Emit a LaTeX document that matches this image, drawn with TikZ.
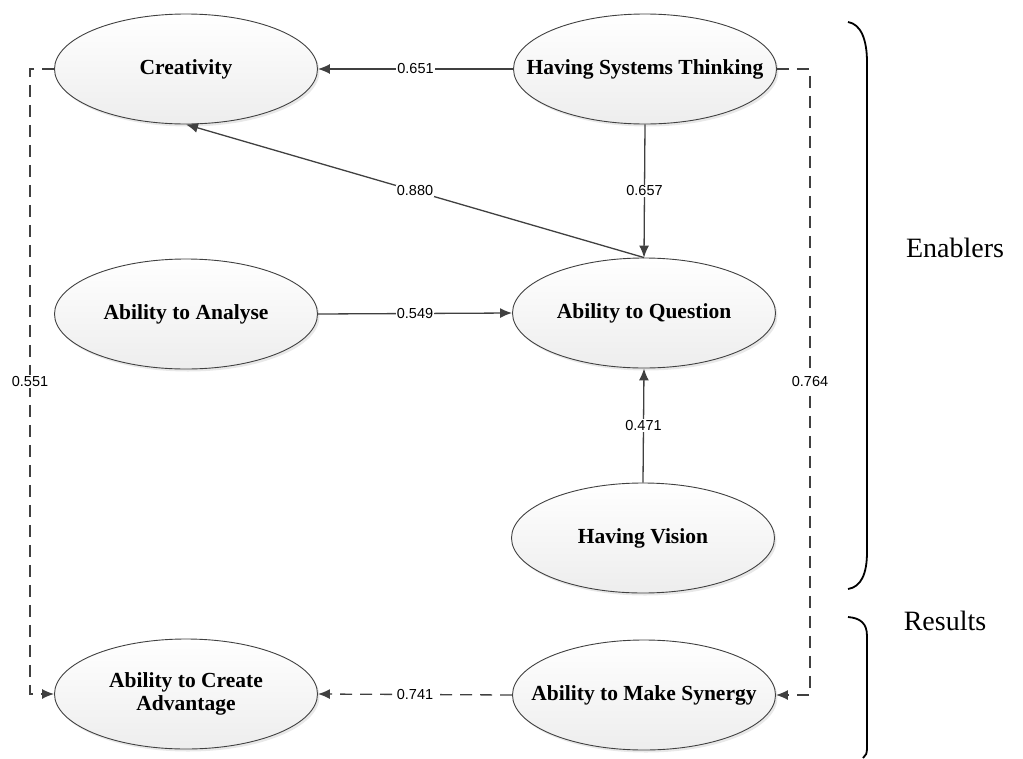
\documentclass[tikz,border=0pt]{standalone}
\usepackage{fontspec}
\setmainfont{Liberation Serif}
\newfontfamily\lblfont{Liberation Sans}
\usetikzlibrary{shapes.geometric,arrows.meta,shadows}
\definecolor{linegray}{HTML}{404040}
\tikzset{
  construct/.style={ellipse, draw=linegray, line width=0.9pt,
    minimum width=263pt, minimum height=110pt, inner xsep=-32pt, inner ysep=0pt,
    top color=white, bottom color=gray!14,
    drop shadow={opacity=0.18, shadow xshift=2pt, shadow yshift=-2.5pt},
    font=\fontsize{21.5}{23}\selectfont\bfseries, align=center},
  path/.style={draw=linegray, line width=1.3pt,
    -{Latex[length=12pt,width=10pt]}},
  dpath/.style={path, dash pattern=on 12pt off 8pt},
  coef/.style={fill=white, inner sep=1pt, font=\lblfont\fontsize{14.5}{16}\selectfont, text=black},
  brace/.style={draw=black, line width=1.8pt},
  group/.style={font=\fontsize{28}{32}\selectfont}
}
\begin{document}
\begin{tikzpicture}[x=1pt,y=-1pt]
\useasboundingbox (0,0) rectangle (1023,758);

\node[construct] (cre) at (186,69) {Creativity};
\node[construct] (sys) at (645,69) {Having Systems Thinking};
\node[construct] (ana) at (186,314) {Ability to Analyse};
\node[construct] (que) at (644,313) {Ability to Question};
\node[construct] (vis) at (643,538) {Having Vision};
\node[construct] (syn) at (644,695) {Ability to Make Synergy};
\node[construct] (adv) at (186,694) {Ability to Create\\Advantage};

\coordinate (lc1) at (30,69);
\coordinate (lc2) at (30,694);
\coordinate (rc1) at (810,69);
\coordinate (rc2) at (810,695);

\draw[path] (sys.west) -- node[coef]{0.651} (cre.east);
\draw[path] (sys.south) -- node[coef]{0.657} (que.north);
\draw[path] (que.north) -- node[coef, pos=0.5]{0.880} (cre.south);
\draw[path] (ana.east) -- node[coef]{0.549} (que.west);
\draw[path] (vis.north) -- node[coef]{0.471} (que.south);
\draw[dpath] (cre.west) -- (lc1) -- node[coef]{0.551} (lc2) -- (adv.west);
\draw[dpath] (sys.east) -- (rc1) -- node[coef]{0.764} (rc2) -- (syn.east);
\draw[dpath] (syn.west) -- node[coef]{0.741} (adv.east);

\draw[brace] (848,22) .. controls (861,24) and (867,40) .. (867,62)
  -- (867,552) .. controls (867,574) and (861,587) .. (848,589);
\draw[brace] (848,617) .. controls (860,618) and (867,623) .. (867,636)
  -- (867,748) .. controls (867,753) and (866,756) .. (863,758);

\node[group] (enab) at (955,248) {Enablers};
\node[group] (res) at (945,621) {Results};
\end{tikzpicture}
\end{document}
